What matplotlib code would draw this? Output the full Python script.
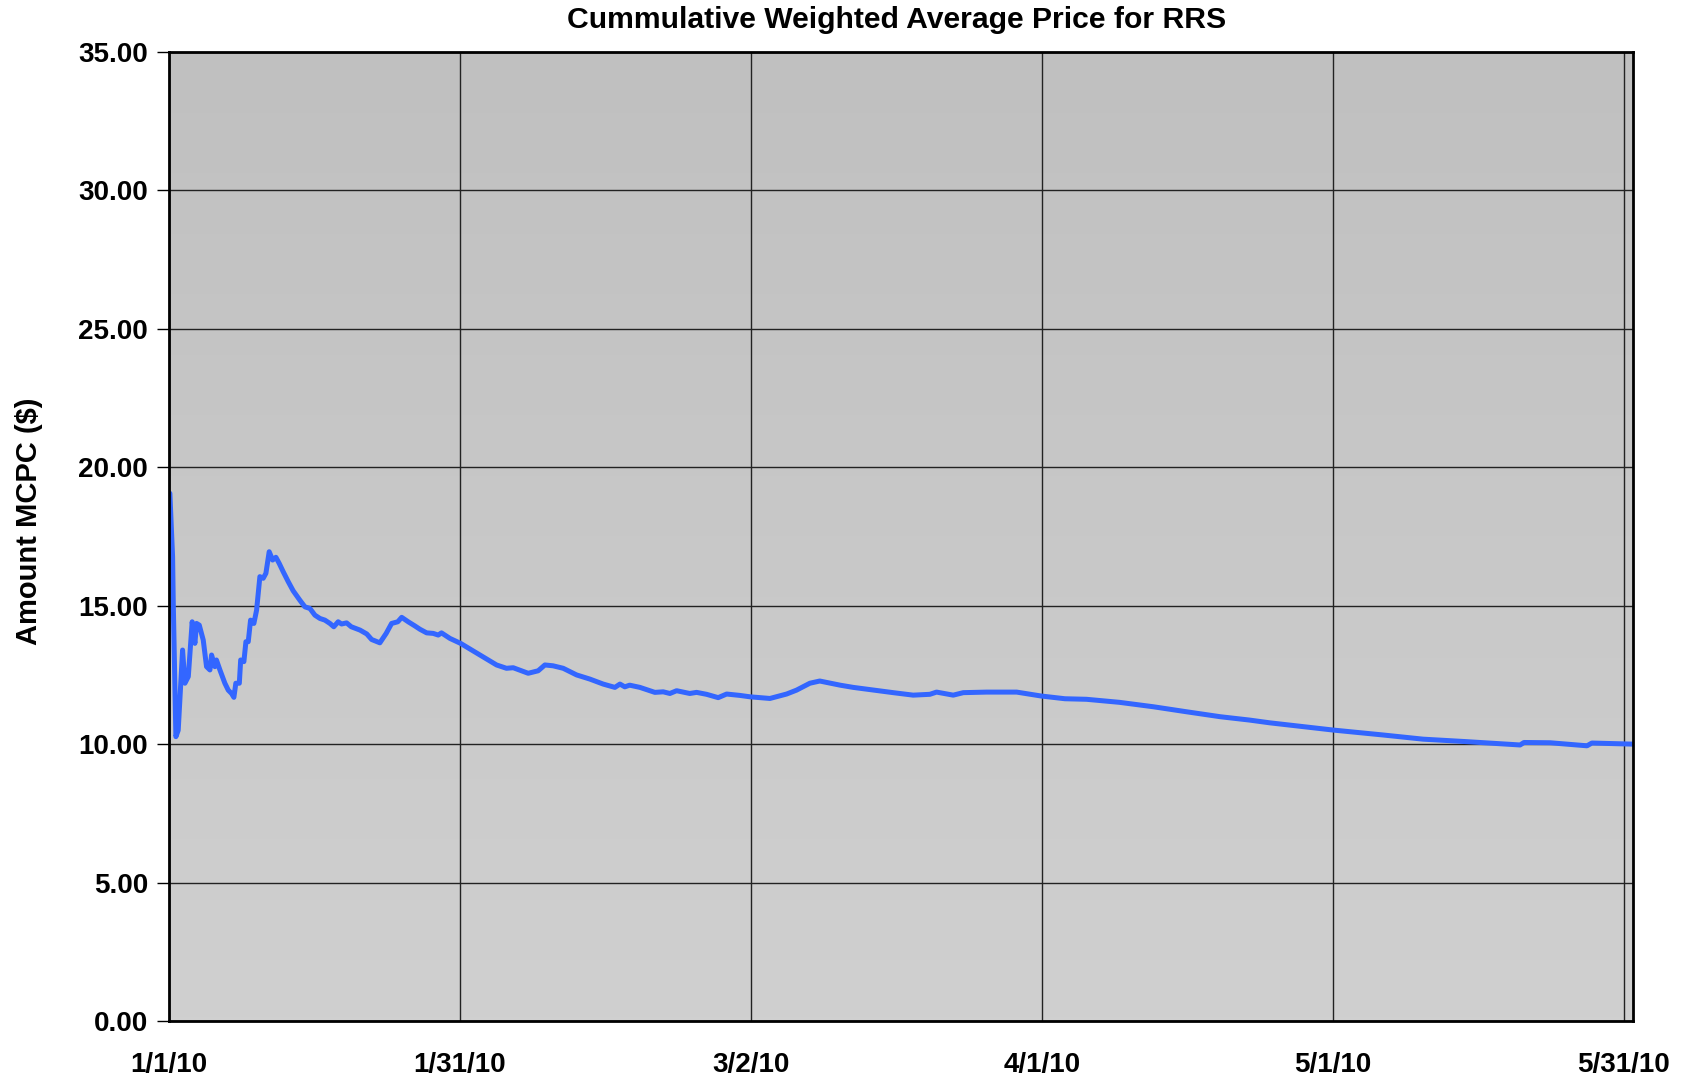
import numpy as np
import pandas as pd
import matplotlib
matplotlib.use("Agg")
import matplotlib.pyplot as plt
import matplotlib.dates as mdates
from matplotlib.colors import LinearSegmentedColormap

title = "Cummulative Weighted Average Price for RRS"
ylabel = "Amount MCPC ($)"
start_date = "2010-01-01"
tick_labels = ["1/1/10", "1/31/10", "3/2/10", "4/1/10", "5/1/10", "5/31/10"]
tick_days = [0, 30, 60, 90, 120, 150]

days = [0.1, 0.38, 0.45, 0.72, 0.96, 1.41, 1.65, 2.0, 2.4, 2.68, 2.85, 3.13, 3.54, 3.88,
        4.23, 4.4, 4.74, 4.9, 5.26, 5.77, 6.12, 6.46, 6.7, 6.9, 7.26, 7.4, 7.73, 7.94,
        8.18, 8.42, 8.76, 9.04, 9.38, 9.72, 10.0, 10.34, 10.69, 11.03, 11.37, 11.78,
        12.3, 12.81, 13.5, 14.02, 14.54, 15.05, 15.57, 16.08, 16.6, 17.0, 17.45, 17.8,
        18.32, 18.8, 19.7, 20.4, 20.9, 21.75, 22.4, 22.96, 23.6, 24.0, 24.67, 25.36,
        25.88, 26.57, 27.25, 27.77, 28.1, 28.97, 30.07, 32.06, 33.78, 34.8, 35.5, 37.04,
        38.07, 38.76, 39.6, 40.65, 42.03, 43.4, 44.77, 45.98, 46.5, 47.0, 47.5, 48.56,
        50.1, 50.96, 51.65, 52.34, 53.7, 54.4, 55.43, 56.63, 57.5, 58.87, 59.9, 61.96,
        63.68, 64.7, 66.08, 67.1, 69.2, 70.55, 74.67, 76.73, 78.45, 79.14, 80.86, 81.9,
        84.3, 87.4, 89.9, 92.37, 94.6, 98.0, 101.5, 104.9, 108.4, 111.4, 113.5, 120.0,
        125.2, 129.3, 133.8, 139.3, 139.7, 142.4, 146.2, 146.7, 151.0]
prices = [19.06, 16.77, 15.1, 10.27, 10.5, 13.4, 12.2, 12.44, 14.42, 13.64, 14.36, 14.3,
          13.76, 12.8, 12.68, 13.22, 12.8, 13.04, 12.68, 12.2, 11.95, 11.83, 11.69, 12.2,
          12.2, 13.04, 12.98, 13.7, 13.7, 14.48, 14.36, 14.84, 16.05, 15.99, 16.17, 16.95,
          16.65, 16.75, 16.53, 16.23, 15.87, 15.54, 15.2, 14.96, 14.9, 14.66, 14.54, 14.48,
          14.36, 14.24, 14.42, 14.34, 14.38, 14.24, 14.12, 13.98, 13.78, 13.66, 14.0, 14.36,
          14.42, 14.58, 14.42, 14.27, 14.15, 14.02, 14.0, 13.94, 14.02, 13.82, 13.64, 13.22,
          12.86, 12.74, 12.76, 12.56, 12.65, 12.86, 12.83, 12.74, 12.5, 12.35, 12.17, 12.05,
          12.17, 12.07, 12.13, 12.05, 11.87, 11.89, 11.83, 11.93, 11.83, 11.87, 11.8, 11.68,
          11.81, 11.76, 11.71, 11.65, 11.81, 11.95, 12.2, 12.28, 12.13, 12.05, 11.86, 11.77,
          11.8, 11.88, 11.77, 11.86, 11.88, 11.88, 11.74, 11.64, 11.62, 11.51, 11.35, 11.17,
          10.99, 10.87, 10.77, 10.51, 10.33, 10.18, 10.09, 9.97, 10.06, 10.05, 9.94, 10.04,
          10.0]

base = pd.Timestamp(start_date)
x = [base + pd.Timedelta(days=d) for d in days]
ticks = [base + pd.Timedelta(days=d) for d in tick_days]

plt.rcParams['font.family'] = ['Liberation Sans', 'DejaVu Sans']
fig = plt.figure(figsize=(16.89, 10.77), dpi=100)
ax = fig.add_axes([0.1, 0.052, 0.8669, 0.8997])

xmin = mdates.date2num(base)
xmax = mdates.date2num(base + pd.Timedelta(days=150.95))

grad = np.linspace(0, 1, 256).reshape(-1, 1)
cmap = LinearSegmentedColormap.from_list("bg", ["#c0c0c0", "#d0d0d0"])
ax.imshow(grad, extent=[xmin, xmax, 0, 35], aspect='auto', cmap=cmap,
          origin='upper', zorder=0)
ax.set_xlim(xmin, xmax)
ax.set_ylim(0, 35)

ax.plot(x, prices, color="#3366ff", lw=3.6, zorder=3,
        solid_joinstyle='round', solid_capstyle='round')

ax.set_yticks(np.arange(0, 36, 5))
ax.set_yticklabels([f"{v:.2f}" for v in np.arange(0, 36, 5)])
ax.set_xticks([mdates.date2num(t) for t in ticks])
ax.set_xticklabels(tick_labels)
ax.grid(True, color="#222222", lw=1.0)
for gl in ax.get_xgridlines() + ax.get_ygridlines():
    gl.set_zorder(1)

ax.tick_params(axis='y', direction='out', length=9, width=1, labelsize=20, pad=6)
ax.tick_params(axis='x', length=0, labelsize=20, pad=22)
for lab in ax.get_xticklabels() + ax.get_yticklabels():
    lab.set_fontweight('bold')
for s in ax.spines.values():
    s.set_linewidth(2)
    s.set_color('black')
    s.set_zorder(4)

ax.set_ylabel(ylabel, fontsize=21, fontweight='bold')
ax.yaxis.set_label_coords(-0.086, 0.516)
ax.set_title(title, fontsize=21.7, fontweight='bold', pad=17, x=0.497)

fig.savefig("out.png", dpi=100, facecolor='white')
